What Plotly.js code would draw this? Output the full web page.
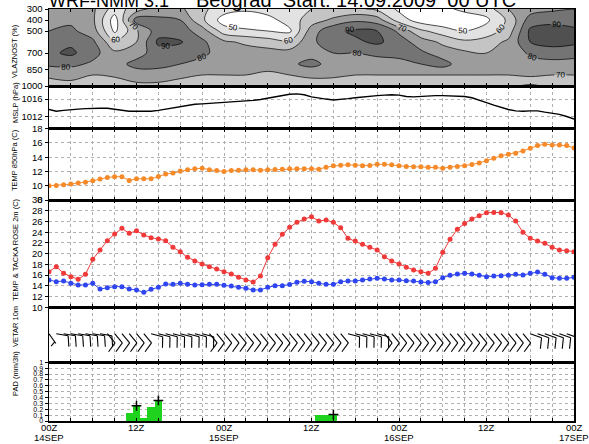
<!DOCTYPE html>
<html><head><meta charset="utf-8">
<script src="https://cdn.plot.ly/plotly-3.0.1.min.js"></script>
<style>html,body{margin:0;padding:0;background:#fff}#chart{width:589px;height:444px}</style>
</head><body><div id="chart"></div>
<script>
// time axis: hours since 14SEP 00Z
const hours = Array.from({length:73},(_,i)=>i);
const tickHours = [0,3,6,9,12,15,18,21,24,27,30,33,36,39,42,45,48,51,54,57,60,63,66,69,72];
const labelHours = [0,12,24,36,48,60,72];
const labelTime  = ['00Z','12Z','00Z','12Z','00Z','12Z','00Z'];
const labelDate  = ['14SEP','','15SEP','','16SEP','','17SEP'];

// relative humidity (%) every 3 h at pressure levels
const rhHours = [0,3,6,9,12,15,18,21,24,27,30,33,36,39,42,45,48,51,54,57,60,63,66,69,72];
const rhLevels = [300,400,500,600,700,800,900,1000];
const rh300  = [75,75,72,55,65,75,72,62,55,52,55,58,60,62,62,58,48,45,48,52,55,70,75,78,80];
const rh400  = [75,78,72,45,85,82,80,62,45,42,46,55,65,72,78,75,55,45,42,45,48,62,85,88,86];
const rh500  = [80,82,75,48,68,86,85,75,55,52,50,48,75,88,92,90,78,62,55,50,54,65,92,93,92];
const rh600  = [85,88,82,62,70,92,91,82,72,68,65,62,78,86,88,92,85,75,68,62,65,72,90,93,92];
const rh700  = [88,92,84,72,75,86,85,82,76,75,74,74,76,80,80,82,84,82,75,72,70,72,82,86,84];
const rh800  = [82,83,78,75,84,84,80,77,75,75,74,78,83,76,76,76,76,80,84,74,72,72,76,76,76];
const rh900  = [72,72,70,72,74,74,72,70,70,70,68,70,72,72,70,70,70,70,70,70,70,70,72,70,70];
const rh1000 = [65,68,65,62,68,68,66,65,63,64,62,64,65,64,64,63,64,64,62,64,64,62,58,62,64];

// MSLP (hPa), hourly
const mslp = [1013.6,1013.2,1013.4,1013.6,1013.7,1013.8,1013.9,1013.9,1013.9,1013.7,1013.4,1013.2,1013.2,1013.2,1013.2,1013.4,1013.7,1014.0,1014.3,1014.6,1014.8,1014.9,1015.0,1015.1,1015.2,1015.3,1015.5,1015.6,1015.7,1015.9,1016.2,1016.5,1016.9,1017.1,1017.2,1017.0,1016.5,1016.2,1016.0,1015.8,1015.9,1016.1,1016.3,1016.5,1016.6,1016.8,1016.9,1017.0,1016.9,1016.6,1016.5,1016.6,1016.8,1016.8,1016.8,1016.7,1016.7,1016.6,1016.3,1015.8,1015.2,1014.6,1014.1,1013.6,1013.3,1013.2,1013.3,1013.3,1013.0,1012.8,1012.5,1012.0,1011.4];

// temperature at 850 hPa (C)
const t850 = [10.0,10.05,10.14,10.23,10.37,10.5,10.7,10.93,11.16,11.26,11.26,10.74,10.98,10.98,10.98,11.3,11.63,11.77,12.05,12.23,12.37,12.47,12.23,12.14,12.0,12.14,12.19,12.23,12.23,12.19,12.23,12.28,12.33,12.37,12.4,12.37,12.37,12.33,12.6,12.79,12.88,12.93,12.88,12.79,12.84,13.02,13.02,12.93,12.79,12.7,12.65,12.65,12.6,12.6,12.47,12.6,12.7,12.79,12.98,13.2,13.49,13.86,14.19,14.42,14.56,14.88,15.26,15.63,15.81,15.72,15.72,15.63,15.3];

// 2 m temperature and dew point (C)
const t2m = [16.64,17.57,16.33,15.71,15.21,16.15,18.94,20.68,22.42,23.66,24.72,23.78,24.28,23.48,22.98,22.73,22.42,21.18,20.37,19.31,18.63,18.07,17.57,17.14,16.64,16.21,15.59,15.09,14.72,15.83,19.25,21.73,23.6,24.9,25.83,26.45,26.89,26.08,26.27,25.83,24.84,22.86,22.36,21.73,21.18,20.68,19.43,18.63,18.07,17.45,16.95,16.64,16.33,17.26,20.24,22.67,24.53,25.64,26.45,27.07,27.63,27.69,27.63,27.19,26.08,23.97,22.86,22.36,21.92,21.18,20.68,20.56,20.37];
const td2m = [15.09,14.78,14.9,14.47,14.16,14.16,14.47,13.41,13.66,13.85,13.85,13.41,13.23,12.79,13.35,13.72,14.35,14.28,14.47,14.28,14.16,14.22,14.28,14.28,14.1,13.97,13.72,13.54,13.23,13.23,13.72,14.03,14.03,14.25,14.66,14.84,14.78,14.47,14.28,14.28,14.78,14.9,14.9,15.09,15.28,15.4,15.28,15.09,15.09,14.97,14.9,14.72,14.6,14.78,15.53,15.96,16.21,16.33,16.21,15.96,15.71,15.83,15.9,15.96,16.15,16.02,16.33,16.58,16.15,15.53,15.4,15.4,15.59];

// 10 m wind: direction (deg, from) and speed (kt)
const windDir = [145,100,100,100,100,100,100,100,140,140,140,140,140,140,105,105,105,105,105,105,105,105,140,140,140,140,140,140,140,140,140,140,140,140,140,140,140,140,140,140,140,105,105,105,105,105,140,140,140,140,140,140,140,140,140,140,140,140,140,140,140,140,140,140,140,140,110,110,110,110,110,110,140];
const windSpd = [5,10,10,10,10,10,10,10,10,10,10,10,10,10,10,10,10,10,10,10,10,10,10,10,10,10,10,10,10,10,10,10,10,10,10,10,10,10,10,10,10,10,10,10,10,10,10,10,10,10,10,10,10,10,10,10,10,10,10,10,10,10,10,10,10,10,10,10,10,10,10,10,10];

// precipitation (mm/3h)
const precip = [0,0,0,0,0,0,0,0,0,0,0,0.13,0.26,0.05,0.24,0.36,0,0,0,0,0,0,0,0,0,0,0,0,0,0,0,0,0,0,0,0,0,0.10,0.10,0.12,0,0,0,0,0,0,0,0,0,0,0,0,0,0,0,0,0,0,0,0,0,0,0,0,0,0,0,0,0,0,0,0,0];
const markHours = [12,15,39];
const markVals  = [0.26,0.35,0.11];

// ---- layout geometry
const W=589,H=444,ML=49,MR=15,MT=9,MB=23;
const plotW=W-ML-MR, plotH=H-MT-MB;
const f = y => (H-MB-y)/plotH;        // page y -> paper fraction
const px = x => (x-ML)/plotW;         // page x -> paper fraction
const PXH = plotW/72;                 // px per hour

// wind barbs built from direction/speed
const windYpx = (f(307.3)-f(362.3))*plotH;
function buildBarbs(){
  const xs=[],ys=[];
  const S=12,B=11,a=76*Math.PI/180;
  for(let i=0;i<hours.length;i++){
    const th=windDir[i]*Math.PI/180;
    const vx=Math.sin(th), vy=-Math.cos(th);
    const bx=vx*Math.cos(a)-vy*Math.sin(a), by=vx*Math.sin(a)+vy*Math.cos(a);
    const x0=hours[i], y0=0.52;
    const X=p=>x0+p/PXH, Y=p=>y0-p/windYpx;
    xs.push(X(0),X(S*vx),null); ys.push(Y(0),Y(S*vy),null);
    let rem=windSpd[i], pos=S;
    while(rem>=10){
      xs.push(X(pos*vx),X(pos*vx+B*bx),null); ys.push(Y(pos*vy),Y(pos*vy+B*by),null);
      rem-=10; pos-=3;
    }
    if(rem>=5){
      if(pos===S) pos=S-2;
      xs.push(X(pos*vx),X(pos*vx+B/2*bx),null); ys.push(Y(pos*vy),Y(pos*vy+B/2*by),null);
    }
  }
  return {xs,ys};
}
const barbs = buildBarbs();

const FONT = 'Liberation Sans, Arial, sans-serif';
const traces = [
  {type:'contour', x:rhHours, y:rhLevels, z:[rh300,rh400,rh500,rh600,rh700,rh800,rh900,rh1000],
   xaxis:'x', yaxis:'y', showscale:false, hoverinfo:'skip',
   autocontour:false,
   contours:{start:50,end:90,size:10,coloring:'fill',showlabels:true,labelfont:{size:8,color:'#000',family:FONT}},
   colorscale:[[0,'#ffffff'],[0.1,'#ffffff'],[0.1,'#e2e2e2'],[0.3,'#e2e2e2'],[0.3,'#c4c4c4'],[0.5,'#c4c4c4'],[0.5,'#9c9c9c'],[0.7,'#9c9c9c'],[0.7,'#747474'],[0.9,'#747474'],[0.9,'#505050'],[1,'#505050']],
   line:{color:'#000',width:0.7,smoothing:1}},
  {type:'scatter', mode:'lines', x:hours, y:mslp, xaxis:'x2', yaxis:'y2', line:{color:'#000',width:1.4}},
  {type:'scatter', mode:'lines+markers', x:hours, y:t850, xaxis:'x3', yaxis:'y3',
   line:{color:'#f58a2a',width:1}, marker:{color:'#f58a2a',size:5}},
  {type:'scatter', mode:'lines+markers', x:hours, y:t2m, xaxis:'x4', yaxis:'y4',
   line:{color:'#f03a3a',width:1}, marker:{color:'#f03a3a',size:5}},
  {type:'scatter', mode:'lines+markers', x:hours, y:td2m, xaxis:'x4', yaxis:'y4',
   line:{color:'#2f45f0',width:1}, marker:{color:'#2f45f0',size:5}},
  {type:'scatter', mode:'lines', x:barbs.xs, y:barbs.ys, xaxis:'x5', yaxis:'y5',
   line:{color:'#000',width:1.1}, connectgaps:false},
  {type:'bar', x:hours, y:precip, width:1, xaxis:'x6', yaxis:'y6', marker:{color:'#1ed21e',line:{width:0}}},
  {type:'scatter', mode:'markers', x:markHours, y:markVals, xaxis:'x6', yaxis:'y6',
   marker:{symbol:'cross-thin',size:7,line:{color:'#000',width:1.5}}}
];

const gridStyle = {showgrid:true, gridcolor:'#b0b0b0', griddash:'dot', gridwidth:1};
function xax(anchor){
  return Object.assign({anchor, range:[0,72], autorange:false, tickmode:'array', tickvals:tickHours,
    showticklabels:false, ticks:'inside', ticklen:3, tickcolor:'#000',
    showline:true, linecolor:'#000', linewidth:1.5, mirror:'ticks', zeroline:false}, gridStyle, anchor!=='y6'?{matches:'x6'}:{});
}
function yax(domain, range, tickvals, ticktext, extra){
  return Object.assign({domain, range, autorange:false, tickmode:'array', tickvals, ticktext,
    ticks:'outside', ticklen:3, tickcolor:'#000', showline:true, linecolor:'#000', linewidth:1.5,
    mirror:true, zeroline:false, tickfont:{family:FONT,size:9.5,color:'#000'}}, gridStyle, extra||{});
}

const ytitles = [
  ['VLAZNOST (%)',51],['MSLP (hPa)',103],['TEMP 850hPa (C)',160],
  ['TEMP &amp; TACKA ROSE 2m (C)',250],['VETAR 10m',327],['PAD (mm/3h)',374]
];
const annotations = ytitles.map(([t,y])=>({text:t, xref:'paper', yref:'paper', x:px(15), y:f(y),
  textangle:-90, showarrow:false, font:{family:FONT,size:7.5,color:'#000'}, xanchor:'center', yanchor:'middle'}));
labelHours.forEach((h,i)=>{
  annotations.push({text:labelTime[i], xref:'x6', yref:'paper', x:h, y:f(427.5), xanchor:'center', yanchor:'middle',
    showarrow:false, font:{family:FONT,size:9.5,color:'#000'}});
  if(labelDate[i]) annotations.push({text:labelDate[i], xref:'x6', yref:'paper', x:h, y:f(437.5), xanchor:'center', yanchor:'middle',
    showarrow:false, font:{family:FONT,size:9.5,color:'#000'}});
});
annotations.push({text:'WRF-NMM 3.1', xref:'paper', yref:'paper', x:px(47), y:f(12.5), xanchor:'left', yanchor:'bottom',
  showarrow:false, font:{family:FONT,size:18,color:'#000'}});
annotations.push({text:'Beograd  Start: 14.09.2009  00 UTC', xref:'paper', yref:'paper', x:px(194), y:f(13), xanchor:'left', yanchor:'bottom',
  showarrow:false, font:{family:FONT,size:20,color:'#000'}});

const layout = {
  width:W, height:H, margin:{l:ML,r:MR,t:MT,b:MB,pad:0},
  paper_bgcolor:'#fff', plot_bgcolor:'#fff', showlegend:false, bargap:0,
  xaxis: xax('y'), xaxis2: xax('y2'), xaxis3: xax('y3'),
  xaxis4: xax('y4'), xaxis5: xax('y5'), xaxis6: xax('y6'),
  yaxis: yax([f(86),1],[1000,300],[300,400,500,700,850,1000],['300','400','500','700','850','1000'],{layer:'above traces'}),
  yaxis2: yax([f(128.7),f(86)],[1009.2,1019],[1012,1016],['1012','1016']),
  yaxis3: yax([f(200),f(128.7)],[8,18],[8,10,12,14,16,18],['8','10','12','14','16','18']),
  yaxis4: yax([f(307.3),f(200)],[10,30],[10,12,14,16,18,20,22,24,26,28,30],['10','12','14','16','18','20','22','24','26','28','30']),
  yaxis5: yax([f(362.3),f(307.3)],[0,1],[],[],{showgrid:false}),
  yaxis6: yax([0,f(362.3)],[0,1],[0,0.1,0.2,0.3,0.4,0.5,0.6,0.7,0.8,0.9,1],['0','0.1','0.2','0.3','0.4','0.5','0.6','0.7','0.8','0.9','1'],{tickfont:{family:FONT,size:7,color:'#000'}}),
  annotations
};
Plotly.newPlot('chart', traces, layout, {staticPlot:true, displayModeBar:false});
</script></body></html>
